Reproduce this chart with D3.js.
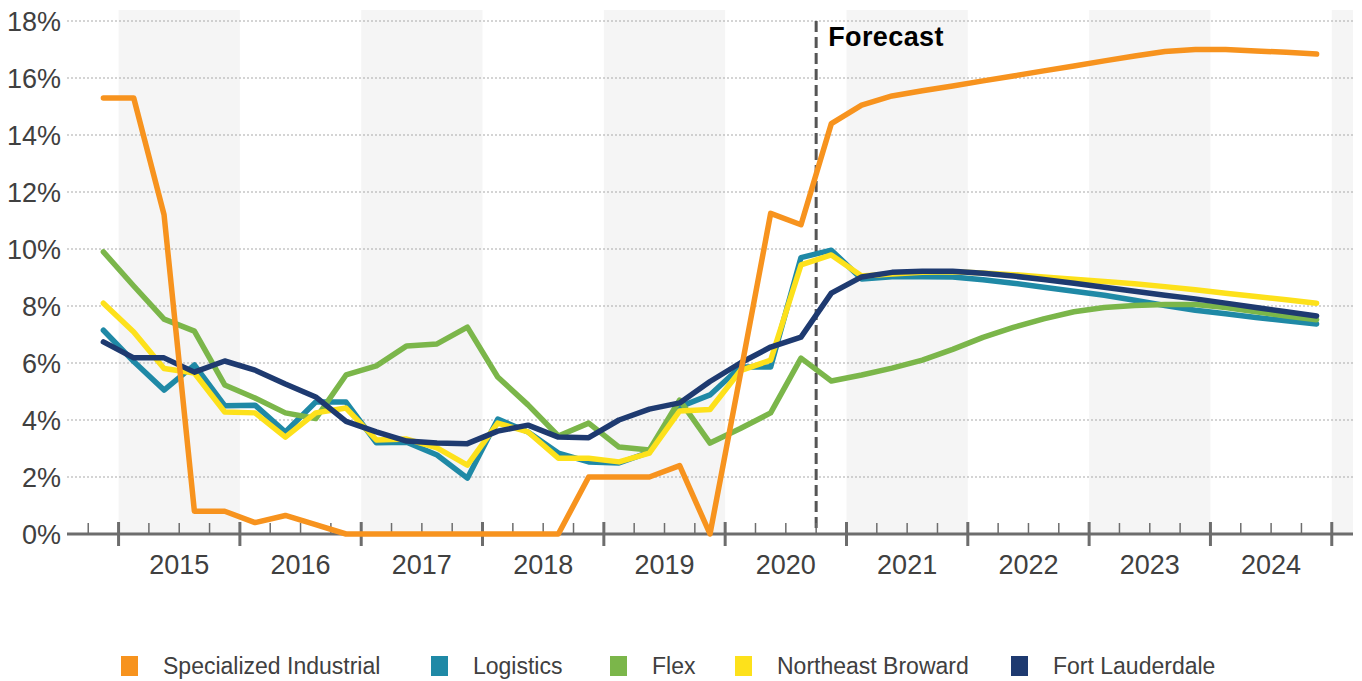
<!DOCTYPE html>
<html lang="en">
<head>
    <title>Vacancy Forecast</title>
    <meta charset="utf-8">
    <script type="text/javascript" src="https://d3js.org/d3.v7.min.js"></script>
    <style>
        body {
            margin: 0;
            background: #fff;
            font-family: Arial, 'Liberation Sans', sans-serif;
        }
    </style>
</head>
<body>
<div id="chart"></div>
<script>
    // quarters Q4 2014 .. Q4 2024
    var quarters = d3.range(41).map(function(i) {
        var q = (i + 3) % 4 + 1, y = 2014 + Math.floor((i + 3) / 4);
        return y + "Q" + q;
    });
    var years = ["2015", "2016", "2017", "2018", "2019", "2020", "2021", "2022", "2023", "2024"];
    var yTicks = [0, 2, 4, 6, 8, 10, 12, 14, 16, 18];
    var forecastStart = 23.5;   // between Q3 and Q4 2020

    var specialized = [15.3, 15.3, 11.2, 0.8, 0.8, 0.4, 0.65, 0.33, 0, 0, 0, 0, 0, 0, 0, 0, 2.0, 2.0, 2.0, 2.4, 0,
        5.6, 11.25, 10.85, 14.4, 15.05, 15.37, 15.55, 15.72, 15.9, 16.07, 16.25, 16.42, 16.6, 16.77, 16.93, 17.0, 17.0, 16.95, 16.9, 16.84];
    var logistics = [7.15, 6.05, 5.05, 5.93, 4.5, 4.52, 3.58, 4.63, 4.63, 3.2, 3.22, 2.77, 1.96, 4.03, 3.58, 2.84, 2.53, 2.49, 2.87, 4.46, 4.88,
        5.86, 5.86, 9.7, 9.96, 8.95, 9.03, 9.03, 9.02, 8.92, 8.8, 8.66, 8.52, 8.38, 8.2, 8.02, 7.85, 7.73, 7.6, 7.48, 7.37];
    var flex = [9.9, 8.7, 7.54, 7.12, 5.23, 4.77, 4.25, 4.05, 5.58, 5.9, 6.6, 6.67, 7.26, 5.51, 4.53, 3.44, 3.89, 3.05, 2.95, 4.7, 3.19,
        3.7, 4.25, 6.17, 5.37, 5.58, 5.82, 6.1, 6.48, 6.9, 7.25, 7.55, 7.8, 7.95, 8.02, 8.05, 8.05, 7.95, 7.8, 7.65, 7.52];
    var northeast = [8.1, 7.09, 5.81, 5.65, 4.28, 4.25, 3.4, 4.25, 4.42, 3.3, 3.33, 3.02, 2.42, 3.89, 3.58, 2.66, 2.66, 2.53, 2.84, 4.32, 4.37,
        5.73, 6.1, 9.44, 9.79, 9.05, 9.12, 9.18, 9.2, 9.16, 9.1, 9.02, 8.94, 8.86, 8.78, 8.68, 8.57, 8.45, 8.33, 8.22, 8.1];
    var ftLauderdale = [6.74, 6.18, 6.18, 5.68, 6.07, 5.75, 5.26, 4.81, 3.95, 3.58, 3.26, 3.19, 3.17, 3.61, 3.82, 3.4, 3.38, 4.0, 4.38, 4.6, 5.35,
        6.0, 6.56, 6.91, 8.45, 9.02, 9.18, 9.22, 9.22, 9.15, 9.05, 8.93, 8.8, 8.66, 8.52, 8.38, 8.25, 8.1, 7.95, 7.8, 7.65];

    var seriesNames = ["Specialized Industrial", "Logistics", "Flex", "Northeast Broward", "Fort Lauderdale"];
    var seriesValues = [specialized, logistics, flex, northeast, ftLauderdale];
    var colors = ["#f7931e", "#1f89a6", "#7bb64a", "#fde11b", "#1e3a70"];

    var width = 1362, height = 681;
    var plotLeft = 67, plotRight = 1353, plotTop = 21, plotBottom = 534;

    var svg = d3.select("#chart").append("svg")
        .attr("width", width)
        .attr("height", height);

    var x = d3.scaleLinear().domain([-1.2, 41.2]).range([plotLeft, plotRight]);
    var y = d3.scaleLinear().domain([0, 18]).range([plotBottom, plotTop]);

    // alternating year bands
    var bandStarts = d3.range(0.5, 41, 8);
    svg.selectAll(".band").data(bandStarts).enter().append("rect")
        .attr("x", function(d) { return x(d); })
        .attr("y", 10)
        .attr("width", function(d) { return x(Math.min(d + 4, 41.2)) - x(d); })
        .attr("height", plotBottom - 10)
        .attr("fill", "#f5f5f5");

    // gridlines
    svg.selectAll(".grid").data(yTicks.slice(1)).enter().append("line")
        .attr("x1", plotLeft).attr("x2", plotRight)
        .attr("y1", function(d) { return y(d); })
        .attr("y2", function(d) { return y(d); })
        .style("stroke", "#aaaaaa")
        .style("stroke-width", 1.2)
        .style("stroke-dasharray", "2,2");

    svg.selectAll(".ylab").data(yTicks).enter().append("text")
        .attr("x", 61)
        .attr("y", function(d) { return y(d); })
        .attr("dy", "0.36em")
        .attr("text-anchor", "end")
        .attr("font-size", "27px")
        .attr("fill", "#404040")
        .text(function(d) { return d + "%"; });

    // forecast marker
    svg.append("line")
        .attr("x1", x(forecastStart)).attr("x2", x(forecastStart))
        .attr("y1", plotTop).attr("y2", plotBottom)
        .style("stroke", "#555")
        .style("stroke-width", 3)
        .style("stroke-dasharray", "11,5");
    svg.append("text")
        .attr("x", x(forecastStart) + 12)
        .attr("y", 46)
        .attr("font-size", "27px")
        .attr("font-weight", "bold")
        .attr("letter-spacing", "0.4px")
        .attr("fill", "#000")
        .text("Forecast");

    // x axis
    var boundaries = d3.range(-0.5, 41, 1);
    svg.selectAll(".tick").data(boundaries).enter().append("line")
        .attr("x1", function(d) { return x(d); })
        .attr("x2", function(d) { return x(d); })
        .attr("y1", function(d) { return ((d - 0.5) % 4 === 0) ? 522 : 523; })
        .attr("y2", function(d) { return ((d - 0.5) % 4 === 0) ? 546 : plotBottom; })
        .style("stroke", "#6d6d6d")
        .style("stroke-width", function(d) { return ((d - 0.5) % 4 === 0) ? 3 : 1.5; });
    svg.append("line")
        .attr("x1", plotLeft).attr("x2", plotRight)
        .attr("y1", plotBottom).attr("y2", plotBottom)
        .style("stroke", "#6d6d6d")
        .style("stroke-width", 3);

    svg.selectAll(".xlab").data(years).enter().append("text")
        .attr("x", function(d, i) { return x(2.5 + i * 4); })
        .attr("y", 574)
        .attr("text-anchor", "middle")
        .attr("font-size", "27px")
        .attr("fill", "#404040")
        .text(function(d) { return d; });

    var line = d3.line()
        .x(function(d, i) { return x(i); })
        .y(function(d) { return y(d); });

    // orange drawn last so it sits on top
    var order = [1, 2, 3, 4, 0];
    order.forEach(function(k) {
        svg.append("path")
            .datum(seriesValues[k])
            .attr("d", line)
            .attr("fill", "none")
            .style("stroke", colors[k])
            .style("stroke-width", 5.5)
            .style("stroke-linejoin", "round")
            .style("stroke-linecap", "round");
    });

    // legend
    var legendX = [121, 431, 610, 735, 1011];
    var legend = svg.selectAll(".legend").data(seriesNames).enter().append("g")
        .attr("transform", function(d, i) { return "translate(" + legendX[i] + ",656)"; });
    legend.append("rect")
        .attr("width", 17).attr("height", 20)
        .attr("fill", function(d, i) { return colors[i]; });
    legend.append("text")
        .attr("x", 42).attr("y", 18)
        .attr("font-size", "23px")
        .attr("fill", "#404040")
        .text(function(d) { return d; });
</script>
</body>
</html>
